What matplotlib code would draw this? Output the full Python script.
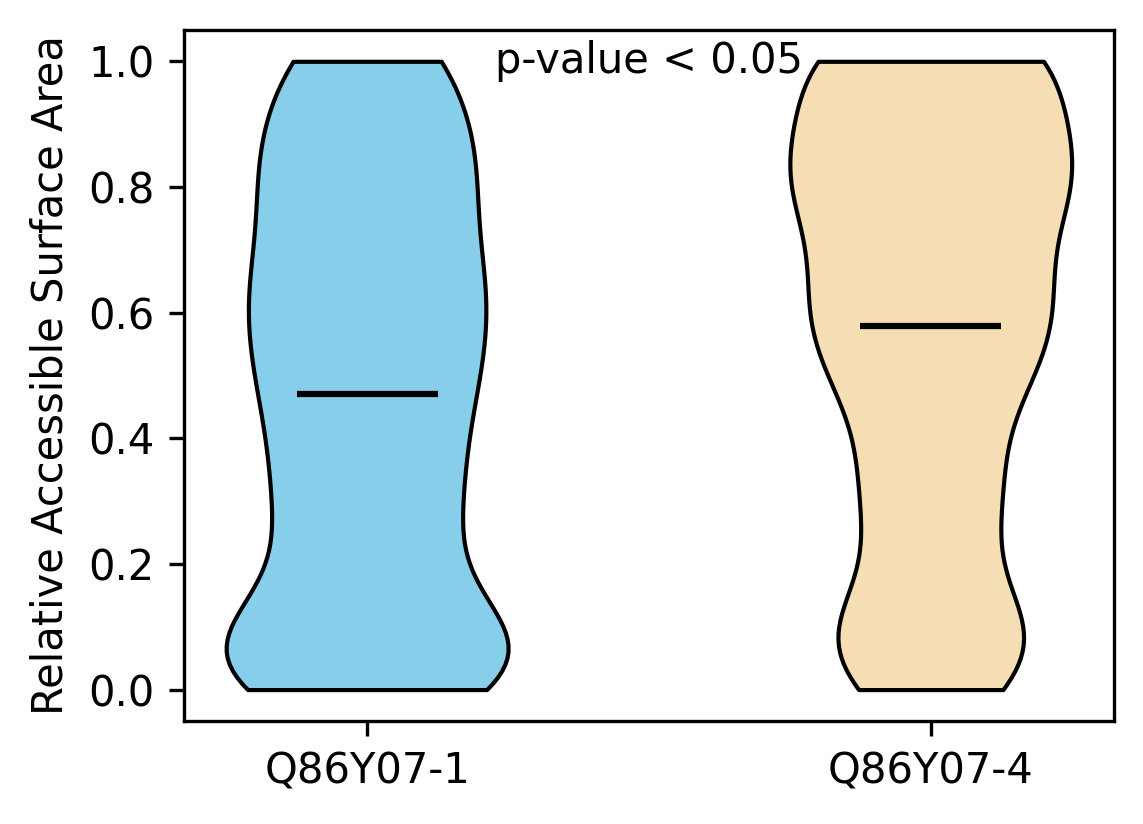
import matplotlib
matplotlib.use("Agg")
import matplotlib.pyplot as plt

# relative accessible surface area per residue, one list per isoform
isoforms = ["Q86Y07-1", "Q86Y07-4"]
rsa_iso1 = [0.00, 0.01, 0.03, 0.04, 0.05, 0.05, 0.05, 0.05, 0.05, 0.06,
            0.06, 0.06, 0.06, 0.06, 0.06, 0.14, 0.21, 0.22, 0.27, 0.27,
            0.27, 0.27, 0.31, 0.36, 0.37, 0.38, 0.43, 0.44, 0.44, 0.49,
            0.50, 0.50, 0.52, 0.54, 0.56, 0.60, 0.61, 0.62, 0.64, 0.64,
            0.65, 0.67, 0.70, 0.71, 0.75, 0.77, 0.81, 0.82, 0.82, 0.82,
            0.85, 0.87, 0.89, 0.90, 0.95, 1.00, 1.00, 1.00, 1.00, 1.00]
rsa_iso4 = [0.00, 0.01, 0.03, 0.05, 0.08, 0.08, 0.09, 0.09, 0.09, 0.09,
            0.09, 0.20, 0.29, 0.29, 0.30, 0.31, 0.32, 0.33, 0.46, 0.48,
            0.44, 0.48, 0.49, 0.56, 0.56, 0.54, 0.55, 0.57, 0.60, 0.64,
            0.65, 0.65, 0.65, 0.67, 0.67, 0.68, 0.81, 0.81, 0.81, 0.81,
            0.81, 0.82, 0.82, 0.82, 0.82, 0.82, 0.82, 0.82, 0.91, 0.95,
            1.00, 1.00, 1.00, 1.00, 1.00, 1.00, 1.00, 1.00, 1.00, 1.00]
colors = ["skyblue", "wheat"]
pvalue_text = "p-value < 0.05"

fig = plt.figure(figsize=(3.813, 2.747), dpi=300)
ax = fig.add_subplot(111)
fig.subplots_adjust(left=0.1608, right=0.9738, bottom=0.125, top=0.9636)

parts = ax.violinplot([rsa_iso1, rsa_iso4], showmeans=True, showextrema=False,
                      bw_method=0.3)
for body, c in zip(parts["bodies"], colors):
    body.set_facecolor(c)
    body.set_edgecolor("black")
    body.set_linewidth(1)
    body.set_alpha(1)
parts["cmeans"].set_color("black")
parts["cmeans"].set_linewidth(1.5)

ax.set_xticks([1, 2])
ax.set_xticklabels(isoforms)
ax.set_ylabel("Relative Accessible Surface Area")
ax.text(1.5, 1.0, pvalue_text, ha="center", va="center")

fig.savefig("out.png")
